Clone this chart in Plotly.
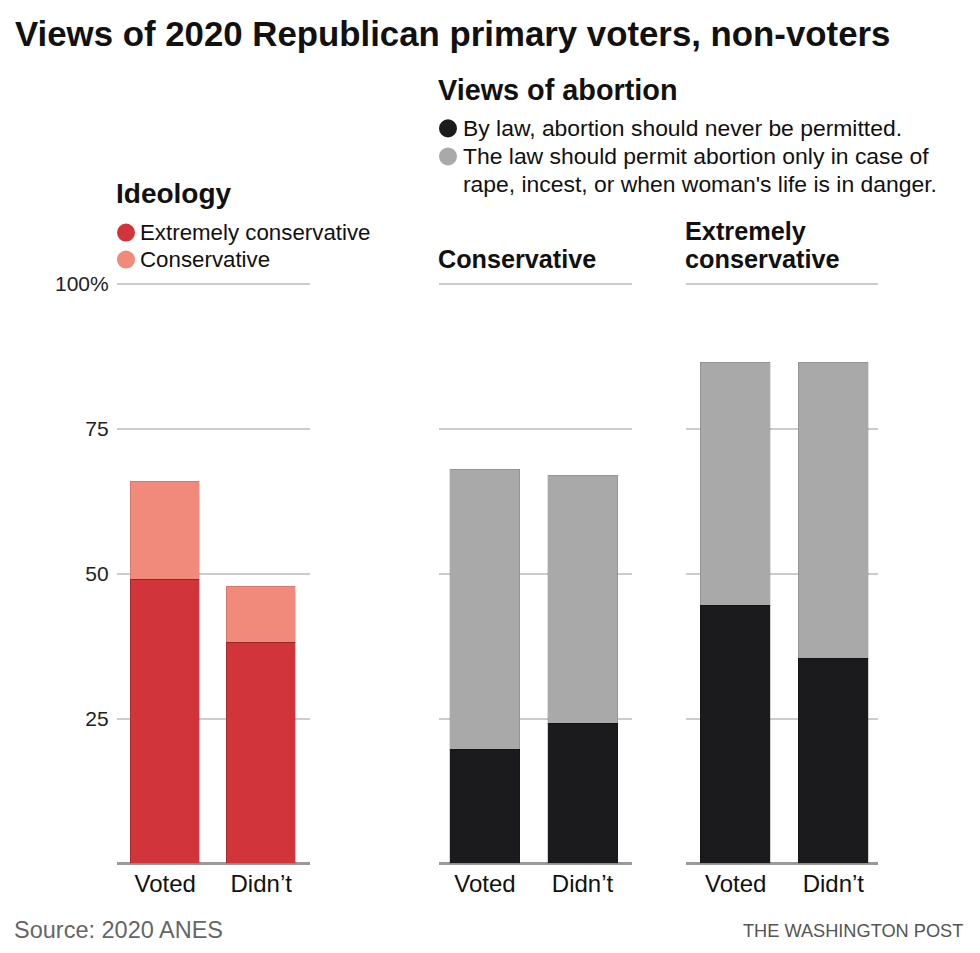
import plotly.graph_objects as go

W, H = 980, 953
OX, OY = 8, 8  # page body margin compensation
SY, BY = 0.992, 6.9  # empirical vertical correction

categories = ["Voted", "Didn’t"]
ideology_extreme = [49.0, 38.0]
ideology_conservative = [16.8, 9.7]
cons_never = [19.6, 24.1]
cons_rape_only = [48.3, 42.8]
ext_never = [44.4, 35.3]
ext_rape_only = [41.9, 51.1]
ytick_vals = [25, 50, 75, 100]
ytick_text = ["25", "50", "75", "100%"]

RED_DARK = "#d1343a"
RED_LIGHT = "#f28a7b"
BLACK = "#1b1b1d"
GREY = "#a9a9a9"

FONT = "Liberation Sans"


def px(x):
    return (x - OX) / W


def py(y):
    yc = (y - BY) / SY
    return 1 - (yc - OY) / H


fig = go.Figure()

# (xaxis, yaxis, bottom, top, colors, grid left, grid right, bar1 center, bar2 center, bar width px)
panels = [
    ("x", "y", ideology_extreme, ideology_conservative, RED_DARK, RED_LIGHT, 116.7, 309.5, 165.2, 261.2, 69),
    ("x2", "y2", cons_never, cons_rape_only, BLACK, GREY, 439, 631.5, 485, 582.5, 70),
    ("x3", "y3", ext_never, ext_rape_only, BLACK, GREY, 685.5, 878, 735.7, 833.3, 70),
]

Y0, Y100 = 863, 284
YTOP = 101
ytop_px = Y0 - (Y0 - Y100) * YTOP / 100
ydom = [py(Y0), py(ytop_px)]

layout = dict(
    width=W, height=H, barmode="stack", bargap=0,
    margin=dict(l=0, r=0, t=0, b=0),
    paper_bgcolor="white", plot_bgcolor="white",
    font=dict(family=FONT, color="#222"),
)

for i, (xa, ya, bottom, top, c1, c2, gl, gr, c0, c1x, bw) in enumerate(panels):
    dist = c1x - c0
    wfrac = bw / dist
    fig.add_trace(go.Bar(x=categories, y=bottom, xaxis=xa, yaxis=ya, width=wfrac,
                         marker=dict(color=c1, line=dict(color="rgba(0,0,0,0.18)", width=1)),
                         hoverinfo="skip", showlegend=False))
    fig.add_trace(go.Bar(x=categories, y=top, xaxis=xa, yaxis=ya, width=wfrac,
                         marker=dict(color=c2, line=dict(color="rgba(0,0,0,0.12)", width=1)),
                         hoverinfo="skip", showlegend=False))
    sfx = "" if i == 0 else str(i + 1)
    r0 = -(c0 - gl) / dist
    r1 = (gr - c0) / dist
    layout["xaxis" + sfx] = dict(
        domain=[px(gl), px(gr)], anchor="y" + sfx, range=[r0, r1],
        showgrid=False, zeroline=False, showline=False, ticks="",
        tickfont=dict(family=FONT, size=24, color="#111"), ticklabelstandoff=3,
        fixedrange=True,
    )
    layout["yaxis" + sfx] = dict(
        domain=ydom, anchor="x" + sfx, range=[0, YTOP],
        tickvals=ytick_vals, ticktext=ytick_text,
        showticklabels=(i == 0), ticks="",
        tickfont=dict(family=FONT, size=21, color="#222"), ticklabelstandoff=7,
        showgrid=True, gridcolor="#cccccc", gridwidth=1.5,
        zeroline=True, zerolinecolor="#9a9a9a", zerolinewidth=2.5,
        showline=False, fixedrange=True, layer="below traces",
    )
fig.update_layout(**layout)

ann = []


def text(x, y, s, size, bold=False, color="#111", xanchor="left", family=FONT):
    ann.append(dict(x=px(x), y=py(y), xref="paper", yref="paper", text=("<b>%s</b>" % s) if bold else s,
                    showarrow=False, xanchor=xanchor, yanchor="middle",
                    font=dict(family=family, size=size, color=color)))


text(13, 34, "Views of 2020 Republican primary voters, non-voters", 34.8, bold=True)
text(114, 194, "Ideology", 28, bold=True)
text(138, 233, "Extremely conservative", 22.3)
text(138, 260, "Conservative", 22.3)
text(436, 91, "Views of abortion", 28.8, bold=True)
text(461, 129, "By law, abortion should never be permitted.", 22.9)
text(461, 157, "The law should permit abortion only in case of", 22.9)
text(461, 185, "rape, incest, or when woman's life is in danger.", 22.9)
text(436, 259, "Conservative", 25.2, bold=True)
text(683, 231, "Extremely", 25.3, bold=True)
text(683, 259, "conservative", 25.3, bold=True)
text(12, 929, "Source: 2020 ANES", 23.5, color="#666")
text(965, 930, "THE WASHINGTON POST", 18.2, color="#555", xanchor="right")
fig.update_layout(annotations=ann)

shapes = []
for cx, cy, col in [(126, 233, RED_DARK), (126, 260, RED_LIGHT), (448, 129, BLACK), (448, 157, GREY)]:
    r = 9
    shapes.append(dict(type="circle", xref="paper", yref="paper",
                       x0=px(cx - r), x1=px(cx + r), y0=py(cy + r), y1=py(cy - r),
                       fillcolor=col, line=dict(width=0)))
fig.update_layout(shapes=shapes)

fig.write_html("out.html")
